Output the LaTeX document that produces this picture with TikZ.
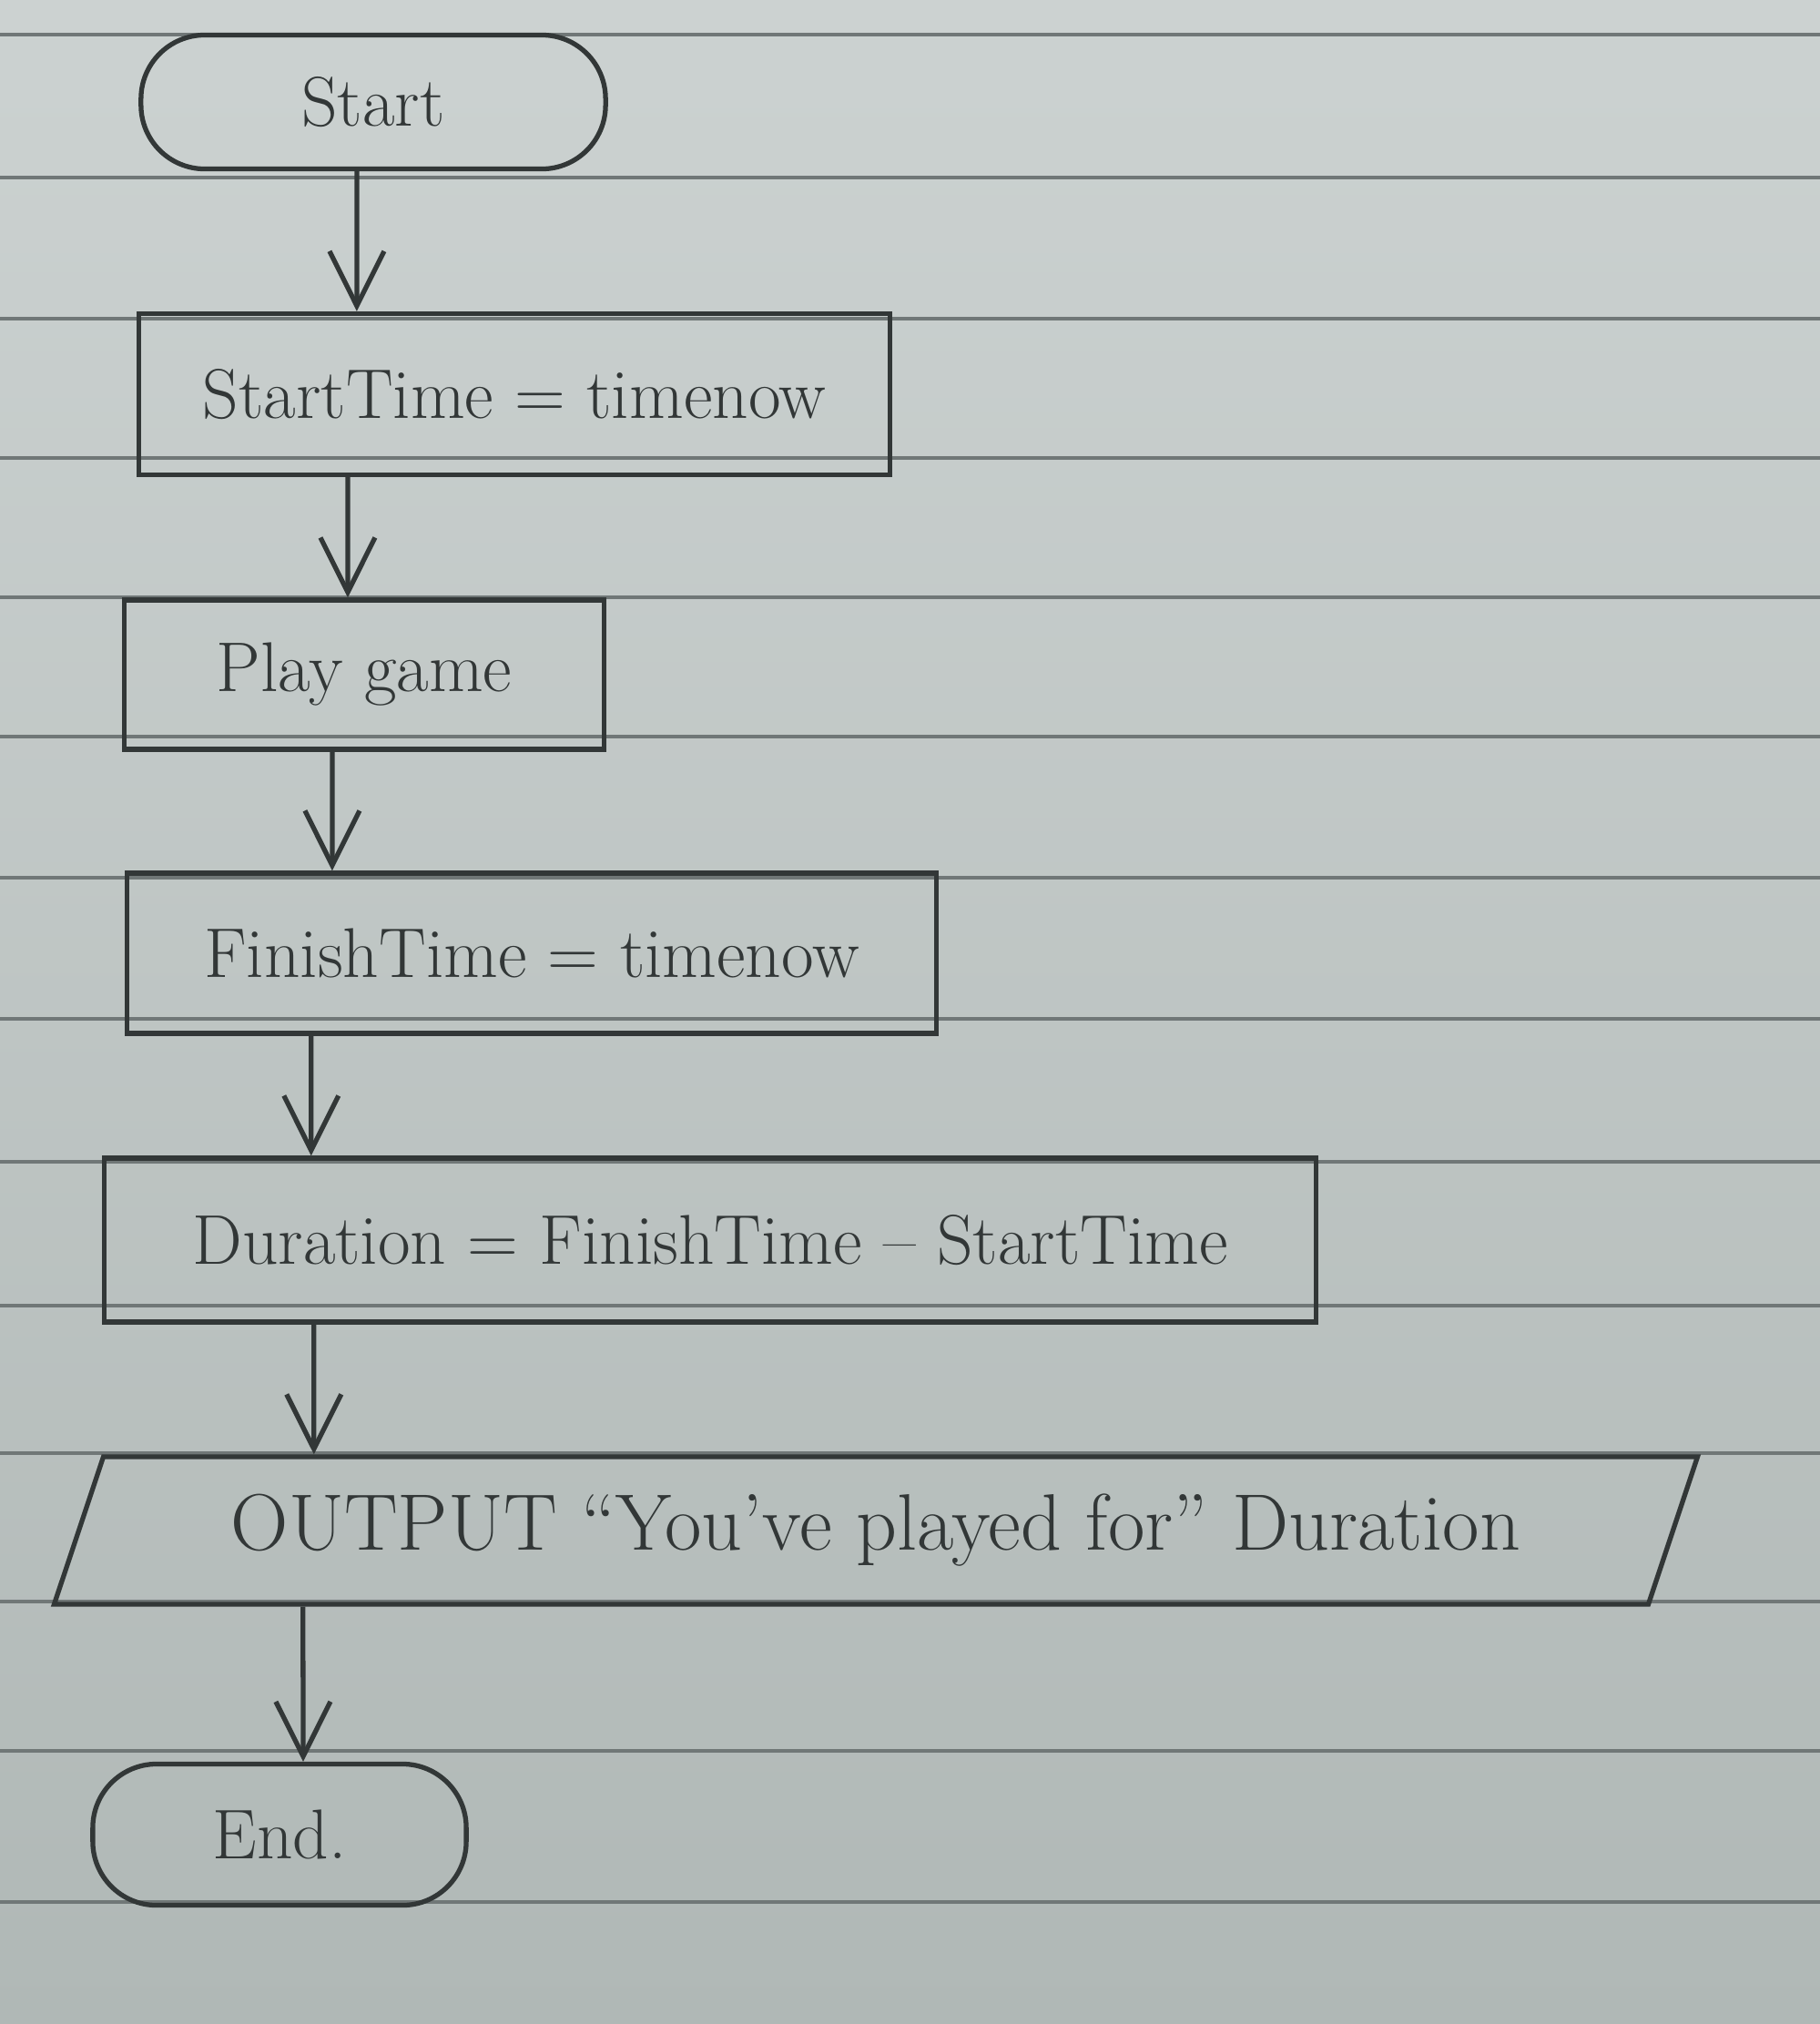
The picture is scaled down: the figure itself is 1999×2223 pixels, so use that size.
\documentclass[tikz,border=0pt]{standalone}
\usepackage{fontspec}
\usetikzlibrary{shapes.geometric,arrows.meta}

\definecolor{paper}{RGB}{204,210,209}
\definecolor{paperdark}{RGB}{176,184,182}
\definecolor{ruling}{RGB}{112,119,119}
\definecolor{pencil}{RGB}{50,55,55}

\tikzset{
  hand/.style={font=\fontsize{22}{26}\selectfont, text=pencil},
  terminal/.style={hand, draw=pencil, line width=1.5pt, rectangle, rounded corners=0.7cm},
  process/.style={hand, draw=pencil, line width=1.5pt, rectangle},
  io/.style={hand, draw=pencil, line width=1.5pt, trapezium,
    trapezium left angle=66, trapezium right angle=114, trapezium stretches=true},
  flow/.style={draw=pencil, line width=1.5pt, -{Straight Barb[length=6mm,width=6mm]}},
}

\begin{document}
\begin{tikzpicture}[x=0.01cm, y=-0.01cm]
  % the sheet and its ruled lines
  \shade[top color=paper, bottom color=paperdark] (0,0) rectangle (1999,2223);
  \useasboundingbox (0,0) rectangle (1999,2223);
  \foreach \ly in {38,195,350,503,656,809,964,1119,1276,1434,1596,1759,1923,2089}
    \draw[ruling, line width=1pt] (0,\ly) -- (1999,\ly);

  % the steps
  \node[terminal, minimum width=5.1cm, minimum height=1.47cm] (start) at (410,112) {Start};
  \node[process, minimum width=8.25cm, minimum height=1.77cm] (starttime) at (565,433) {StartTime = timenow};
  \node[process, minimum width=5.26cm, minimum height=1.64cm] (play) at (400,741) {Play game};
  \node[process, minimum width=8.88cm, minimum height=1.76cm] (finishtime) at (584,1047) {FinishTime = timenow};
  \node[process, minimum width=13.3cm, minimum height=1.8cm] (duration) at (780,1362) {Duration = FinishTime -- StartTime};
  \node[io, font=\fontsize{25}{30}\selectfont, minimum width=18.1cm, minimum height=1.62cm] (output) at (962,1681)
    {OUTPUT ``You've played for'' Duration};
  \node[terminal, minimum width=4.1cm, minimum height=1.55cm] (stop) at (307,2015) {End.};

  % arrows, drawn left of the box centres as on the sheet
  \draw[flow] ([xshift=-0.18cm]start.south) -- ([xshift=-1.73cm]starttime.north);
  \draw[flow] ([xshift=-1.83cm]starttime.south) -- ([xshift=-0.18cm]play.north);
  \draw[flow] ([xshift=-0.35cm]play.south) -- ([xshift=-2.19cm]finishtime.north);
  \draw[flow] ([xshift=-2.42cm]finishtime.south) -- ([xshift=-4.38cm]duration.north);
  \draw[flow] ([xshift=-4.35cm]duration.south) -- ([xshift=-6.17cm]output.north);
  \draw[flow] ([xshift=-6.29cm]output.south) -- ([xshift=0.26cm]stop.north);
\end{tikzpicture}
\end{document}
